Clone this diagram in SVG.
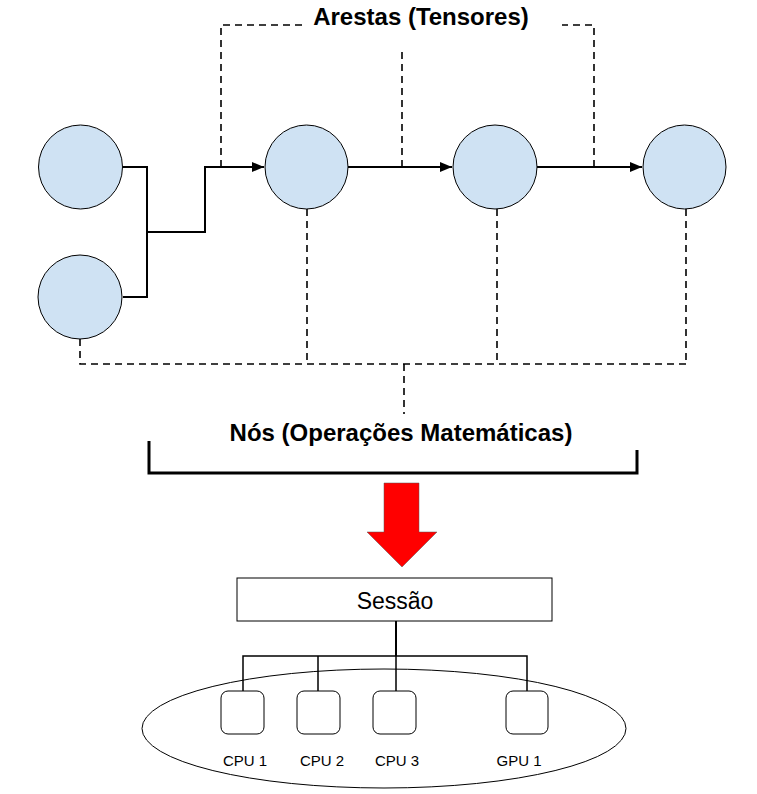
<svg xmlns="http://www.w3.org/2000/svg" width="757" height="794" viewBox="0 0 757 794">
<style>
.node{fill:#cfe2f3;stroke:#000;stroke-width:1}
.edge{fill:none;stroke:#000;stroke-width:2}
.dash{fill:none;stroke:#000;stroke-width:1.6;stroke-dasharray:7 5}
.title{font-family:"Liberation Sans",Arial,sans-serif;font-weight:bold;font-size:24px;fill:#000}
.lbl{font-family:"Liberation Sans",Arial,sans-serif;font-size:15px;fill:#000}
.dev{fill:#fff;stroke:#000;stroke-width:1}
</style>
<defs>
<marker id="ah" markerWidth="12" markerHeight="10" refX="12" refY="5" orient="auto" markerUnits="userSpaceOnUse">
<path d="M0,0 L12,5 L0,10 z" fill="#000"/>
</marker>
</defs>
<rect width="757" height="794" fill="#fff"/>
<g id="connectors">
<path class="edge" d="M123,167 H147 V297 H123"/>
<path class="edge" d="M147,232 H205 V167 H264" marker-end="url(#ah)"/>
<path class="edge" d="M348,167 H452" marker-end="url(#ah)"/>
<path class="edge" d="M537,167 H642" marker-end="url(#ah)"/>
<path class="dash" d="M221,167 V25 H303"/>
<path class="dash" d="M402,167 V50"/>
<path class="dash" d="M594,167 V25 H562"/>
<path class="dash" d="M80,339 V364 H686"/>
<path class="dash" d="M307,209 V364"/>
<path class="dash" d="M497,209 V364"/>
<path class="dash" d="M686,209 V364"/>
<path class="dash" d="M404,364 V414"/>
<path d="M149,441 V473 H637 V450" fill="none" stroke="#000" stroke-width="3"/>
<path d="M396,621 V656" fill="none" stroke="#000" stroke-width="2"/>
<path d="M243,691 V656 H527 V691 M318,656 V691 M396,656 V691" fill="none" stroke="#000" stroke-width="1.5"/>
</g>
<g id="n1"><ellipse class="node" cx="80.5" cy="167" rx="42" ry="42"/></g>
<g id="n2"><ellipse class="node" cx="80" cy="297" rx="42" ry="42"/></g>
<g id="n3"><ellipse class="node" cx="306.5" cy="167" rx="41.5" ry="42"/></g>
<g id="n4"><ellipse class="node" cx="495" cy="167" rx="42" ry="42"/></g>
<g id="n5"><ellipse class="node" cx="684.5" cy="167" rx="41.5" ry="42"/></g>
<g id="label-arestas"><text class="title" x="421" y="25" text-anchor="middle">Arestas (Tensores)</text></g>
<g id="label-nos"><text class="title" x="401" y="441" text-anchor="middle">Nós (Operações Matemáticas)</text></g>
<g id="big-arrow"><path d="M384,483 H419 V532 H437 L402,567 L367,532 H384 Z" fill="#ff0000" stroke="#555" stroke-width="0.5"/></g>
<g id="devices"><ellipse cx="384" cy="728.5" rx="242" ry="59.5" fill="none" stroke="#000" stroke-width="1"/></g>
<g id="sessao"><rect x="237" y="578" width="315" height="43" fill="#fff" stroke="#000" stroke-width="1"/>
<text x="395" y="609" text-anchor="middle" font-family="'Liberation Sans',Arial,sans-serif" font-size="23">Sessão</text></g>
<g id="cpu1"><rect class="dev" x="221" y="691" width="43" height="43" rx="7"/><text class="lbl" x="245" y="766" text-anchor="middle">CPU 1</text></g>
<g id="cpu2"><rect class="dev" x="297" y="691" width="43" height="43" rx="7"/><text class="lbl" x="322" y="766" text-anchor="middle">CPU 2</text></g>
<g id="cpu3"><rect class="dev" x="373" y="691" width="43" height="43" rx="7"/><text class="lbl" x="397" y="766" text-anchor="middle">CPU 3</text></g>
<g id="gpu1"><rect class="dev" x="506" y="691" width="42" height="43" rx="7"/><text class="lbl" x="519" y="766" text-anchor="middle">GPU 1</text></g>
</svg>
